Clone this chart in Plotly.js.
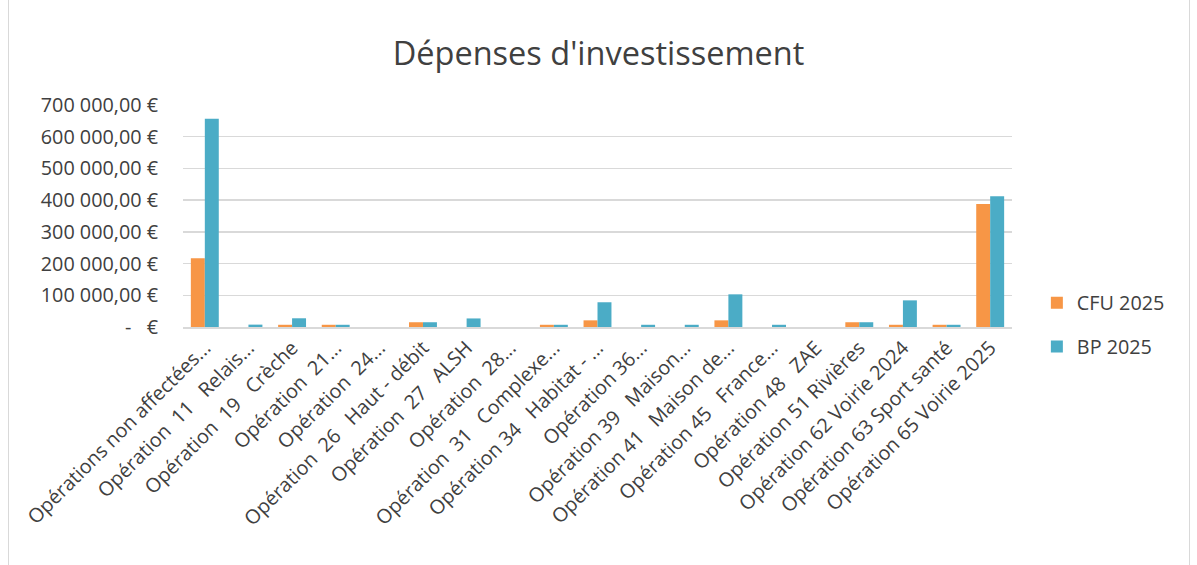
<!DOCTYPE html>
<html>
<head>
<meta charset="utf-8">
<script src="https://cdn.plot.ly/plotly-3.0.1.min.js"></script>
<style>
html,body{margin:0;padding:0;background:#fff;}
#frame{position:absolute;left:8px;top:-2px;width:1182px;height:570px;border:1px solid #d9d9d9;box-sizing:border-box;}
#chart{position:absolute;left:0;top:0;width:1197px;height:565px;}
</style>
</head>
<body>
<div id="frame"></div>
<div id="chart"></div>
<script>
var NB = '\u00a0';
var categories = [
  "Opérations non affectées...",
  "Opération  11   Relais...",
  "Opération  19   Crèche",
  "Opération  21...",
  "Opération  24...",
  "Opération  26   Haut - débit",
  "Opération  27   ALSH",
  "Opération  28...",
  "Opération  31   Complexe...",
  "Opération 34   Habitat - ...",
  "Opération 36...",
  "Opération 39   Maison...",
  "Opération 41   Maison de...",
  "Opération 45   France...",
  "Opération 48   ZAE",
  "Opération 51 Rivières",
  "Opération 62 Voirie 2024",
  "Opération 63 Sport santé",
  "Opération 65 Voirie 2025"
];
var cfu2025 = [217000, 0, 7000, 7000, 0, 15000, 0, 0, 7000, 21000, 0, 0, 21000, 0, 0, 15000, 7000, 7000, 388000];
var bp2025  = [657000, 7500, 27500, 7000, 0, 15000, 27000, 0, 7000, 78000, 7000, 7000, 103000, 7000, 0, 15000, 84000, 7000, 412000];
var seriesNames = ["CFU 2025", "BP 2025"];
var yTickVals = [0, 100000, 200000, 300000, 400000, 500000, 600000, 700000];
var yTickText = ["-   €", "100 000,00 €", "200 000,00 €", "300 000,00 €", "400 000,00 €", "500 000,00 €", "600 000,00 €", "700 000,00 €"];
var chartTitle = "Dépenses d'investissement";

var labels = categories.map(function(s){ return s.replace(/ /g, NB); });
var yText = yTickText.map(function(s){ return s.replace(/ /g, NB); });

var font = "Open Sans, sans-serif";
var traces = [
  {type:'bar', name:seriesNames[0], x:labels, y:cfu2025, legendgroup:'a',
   marker:{color:'#F79646', line:{width:0}}},
  {type:'bar', name:seriesNames[1], x:labels, y:bp2025, legendgroup:'b',
   marker:{color:'#4BACC6', line:{width:0}}}
];
var layout = {
  width:1197, height:565,
  paper_bgcolor:'rgba(0,0,0,0)', plot_bgcolor:'rgba(0,0,0,0)',
  margin:{l:183, r:185, t:105, b:238},
  title:{text:chartTitle, x:0.5, xanchor:'center', y:0.905, yanchor:'middle',
         font:{family:font, size:32.5, color:'#404040'}},
  barmode:'group', bargap:0.36, bargroupgap:0,
  font:{family:font, color:'#404040'},
  xaxis:{type:'category', tickangle:-45, tickfont:{family:font, size:19.8, color:'#404040'},
         showline:true, linecolor:'#d9d9d9', linewidth:1.5, ticks:'', showgrid:false},
  yaxis:{range:[0,700000], tickvals:yTickVals, ticktext:yText,
         tickfont:{family:font, size:19.8, color:'#404040'},
         showgrid:true, gridcolor:'#d9d9d9', gridwidth:1.5, zeroline:false,
         showline:false, ticks:'', ticklabelstandoff:24},
  showlegend:true,
  legend:{x:1.03, xanchor:'left', y:0.01, yanchor:'middle', traceorder:'grouped',
          tracegroupgap:15, font:{family:font, size:19.8, color:'#404040'},
          bgcolor:'rgba(0,0,0,0)'}
};
Plotly.newPlot('chart', traces, layout, {displayModeBar:false, staticPlot:true});
</script>
</body>
</html>
